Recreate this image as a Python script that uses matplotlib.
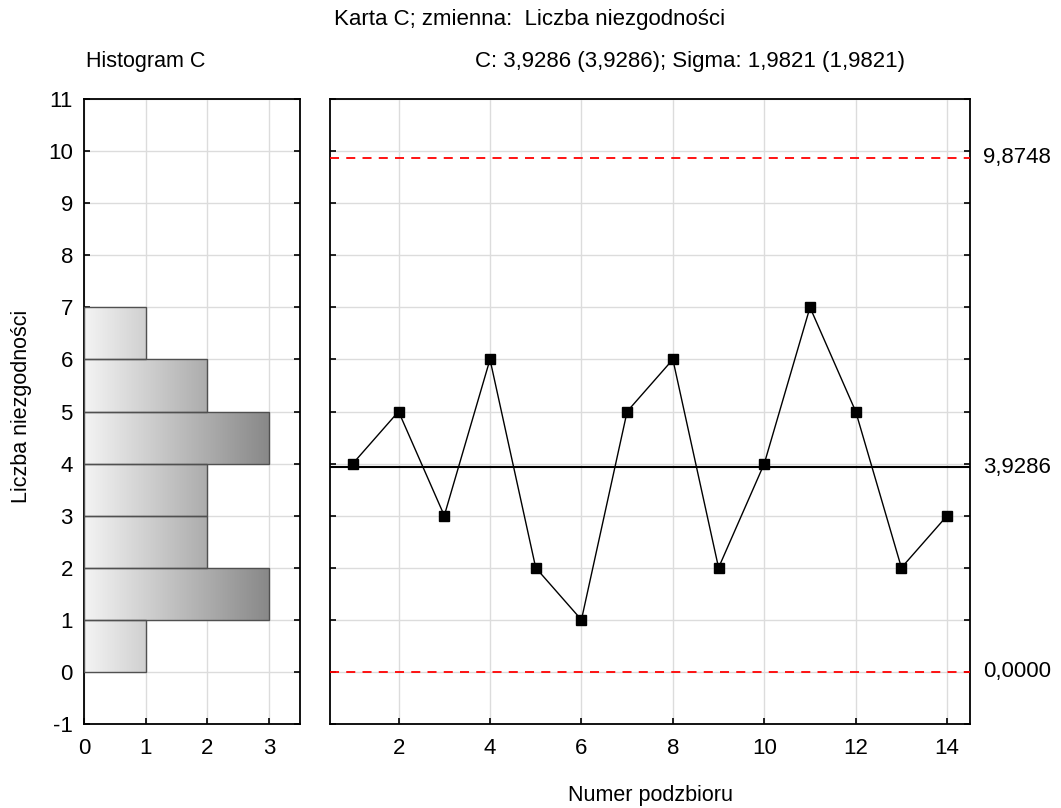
import numpy as np
import matplotlib
matplotlib.use("Agg")
import matplotlib.pyplot as plt
from matplotlib.colors import LinearSegmentedColormap

plt.rcParams['font.family'] = ['Liberation Sans', 'DejaVu Sans']
plt.rcParams['font.size'] = 15
plt.rcParams['axes.unicode_minus'] = False

# data
subset = [1, 2, 3, 4, 5, 6, 7, 8, 9, 10, 11, 12, 13, 14]
counts = [4, 5, 3, 6, 2, 1, 5, 6, 2, 4, 7, 5, 2, 3]
hist_bins = [0, 1, 2, 3, 4, 5, 6]          # lower edge of each bin
hist_counts = [1, 3, 2, 2, 3, 2, 1]
center = 3.9286
ucl = 9.8748
lcl = 0.0
sigma = 1.9821

fig = plt.figure(figsize=(10.61, 8.08), dpi=100)
ax_h = fig.add_axes([84 / 1061, 1 - 724 / 808, 216 / 1061, 625 / 808])
ax = fig.add_axes([330 / 1061, 1 - 724 / 808, 640 / 1061, 625 / 808])

grid_col = '#dcdcdc'
tsize = 16

# --- histogram ---
cmap = LinearSegmentedColormap.from_list('g', ['#f4f4f4', '#888888'])
grad = np.linspace(0, 1, 256).reshape(1, -1)
for lo, n in zip(hist_bins, hist_counts):
    rect = plt.Rectangle((0, lo), n, 1, facecolor='none', edgecolor='#505050', lw=1, zorder=3)
    ax_h.add_patch(rect)
    im = ax_h.imshow(grad, cmap=cmap, aspect='auto', extent=[0, 3, lo, lo + 1],
                     origin='lower', zorder=2, vmin=0, vmax=1)
    im.set_clip_path(rect)
ax_h.set_xlim(0, 3.5)
ax_h.set_ylim(-1, 11)
ax_h.set_xticks([0, 1, 2, 3])
ax_h.set_yticks(range(-1, 12))
ax_h.grid(True, color=grid_col, lw=1, zorder=0)
ax_h.set_axisbelow(True)
ax_h.tick_params(direction='in', right=True, top=False, length=4, width=1.2, labelsize=tsize)
ax_h.tick_params(axis='y', pad=8)
ax_h.tick_params(axis='x', pad=10)
for s in ax_h.spines.values():
    s.set_linewidth(1.3)

# --- control chart ---
ax.plot(subset, counts, color='black', lw=1, marker='s', markersize=7.5, zorder=4)
ax.axhline(center, color='black', lw=1.5, zorder=3)
ax.axhline(ucl, color='#ff0000', lw=1.3, ls=(0, (5, 4)), zorder=3)
ax.axhline(lcl, color='#ff0000', lw=1.3, ls=(0, (5, 4)), zorder=3)
ax.set_xlim(0.5, 14.5)
ax.set_ylim(-1, 11)
ax.set_xticks(range(2, 15, 2))
ax.set_yticks(range(-1, 12))
ax.set_yticklabels([])
ax.grid(True, color=grid_col, lw=1, zorder=0)
ax.set_axisbelow(True)
ax.tick_params(direction='in', right=True, left=True, top=False, length=4, width=1.2,
               labelsize=tsize)
ax.tick_params(axis='x', pad=10)
for s in ax.spines.values():
    s.set_linewidth(1.3)
for val, lab in [(ucl, '9,8748'), (center, '3,9286'), (lcl, '0,0000')]:
    ax.text(1.02, val, lab, transform=ax.get_yaxis_transform(), fontsize=tsize,
            ha='left', va='center')

# texts around the panels
fig.text(22 / 1061, 1 - 406 / 808, 'Liczba niezgodności', fontsize=15.5,
         rotation=90, ha='center', va='center')
fig.text(650 / 1061, 1 - 795 / 808, 'Numer podzbioru', fontsize=15.5,
         ha='center', va='center')
fig.text(86 / 1061, 1 - 62 / 808, 'Histogram C', fontsize=15.5, ha='left', va='center')
fig.text(530 / 1061, 1 - 20 / 808, 'Karta C; zmienna:  Liczba niezgodności',
         fontsize=16, ha='center', va='center')
fig.text(690 / 1061, 1 - 62 / 808, 'C: 3,9286 (3,9286); Sigma: 1,9821 (1,9821)',
         fontsize=16, ha='center', va='center')

fig.savefig('out.png', dpi=100)
